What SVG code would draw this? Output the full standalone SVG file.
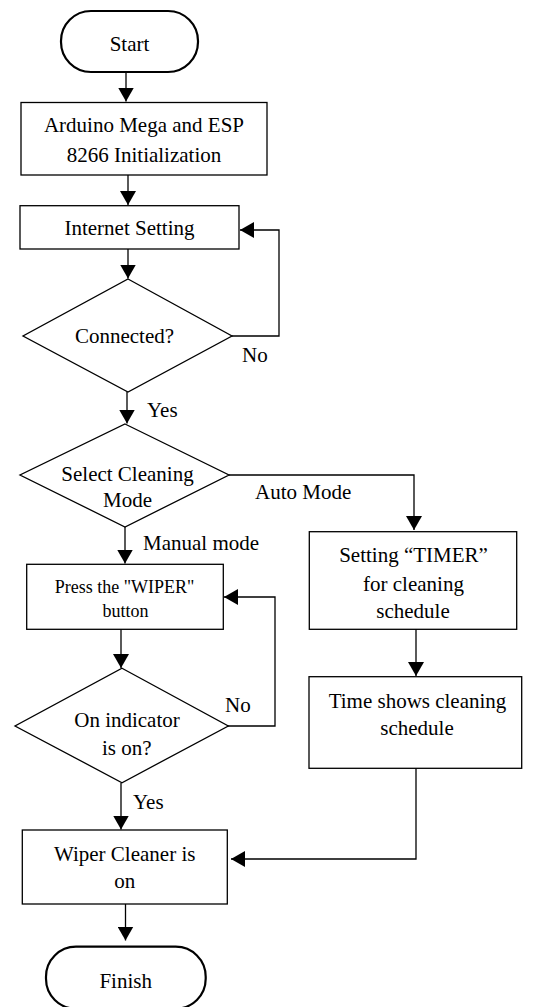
<svg xmlns="http://www.w3.org/2000/svg" width="534" height="1007" viewBox="0 0 534 1007">
<style>
.t{font-family:"Liberation Serif","Times New Roman",serif;font-size:21px;fill:#000;text-anchor:middle}
.s{font-size:18px}
.l{text-anchor:start}
.box{fill:#fff;stroke:#000;stroke-width:1.3}
.term{fill:#fff;stroke:#000;stroke-width:2.2}
.c{fill:none;stroke:#000;stroke-width:1.3}
</style>
<defs>
<marker id="ah" markerUnits="userSpaceOnUse" markerWidth="14" markerHeight="16" refX="14" refY="8" orient="auto">
<path d="M0,0 L14,8 L0,16 z" fill="#000"/>
</marker>
</defs>
<rect width="534" height="1007" fill="#fff"/>
<g id="connectors">
<path class="c" d="M126,72 V101.5" marker-end="url(#ah)"/>
<path class="c" d="M128,175 V205" marker-end="url(#ah)"/>
<path class="c" d="M128,249 V278.5" marker-end="url(#ah)"/>
<path class="c" d="M232,336 H279 V230 H240" marker-end="url(#ah)"/>
<path class="c" d="M127,392 V423.5" marker-end="url(#ah)"/>
<path class="c" d="M229,475 H414 V530" marker-end="url(#ah)"/>
<path class="c" d="M125,527 V563.5" marker-end="url(#ah)"/>
<path class="c" d="M121,629 V668" marker-end="url(#ah)"/>
<path class="c" d="M228,726 H275 V597 H224" marker-end="url(#ah)"/>
<path class="c" d="M416,629 V676" marker-end="url(#ah)"/>
<path class="c" d="M121,783 V829.5" marker-end="url(#ah)"/>
<path class="c" d="M416,768 V859 H231" marker-end="url(#ah)"/>
<path class="c" d="M125.5,904 V940.5" marker-end="url(#ah)"/>
</g>
<g id="start">
<rect class="term" x="61" y="11" width="137" height="61" rx="30" ry="30"/>
<text class="t" x="129.5" y="51">Start</text>
</g>
<g id="init">
<rect class="box" x="21" y="102.5" width="246" height="72.5"/>
<text class="t" x="144" y="132">Arduino Mega and ESP</text>
<text class="t" x="144" y="162">8266 Initialization</text>
</g>
<g id="internet">
<rect class="box" x="20" y="205.7" width="219" height="43.3"/>
<text class="t" x="129.5" y="235">Internet Setting</text>
</g>
<g id="connected">
<polygon class="box" points="128,279 232,336 128,392 23,336"/>
<text class="t" x="124.5" y="343">Connected?</text>
<text class="t l" x="242" y="362">No</text>
<text class="t l" x="147" y="417">Yes</text>
</g>
<g id="select">
<polygon class="box" points="125,424 229,475 125,527 20,475"/>
<text class="t" x="127.5" y="481">Select Cleaning</text>
<text class="t" x="127.5" y="507">Mode</text>
<text class="t l" x="255" y="499">Auto Mode</text>
<text class="t l" x="143" y="550">Manual mode</text>
</g>
<g id="wiper">
<rect class="box" x="26.7" y="564.3" width="196.6" height="65"/>
<text class="t s" x="124.5" y="593">Press the "WIPER"</text>
<text class="t s" x="125.5" y="617">button</text>
</g>
<g id="timer">
<rect class="box" x="309.3" y="531.7" width="207.4" height="97.6"/>
<text class="t" x="413.5" y="561.7">Setting “TIMER”</text>
<text class="t" x="413.5" y="591">for cleaning</text>
<text class="t" x="413" y="618">schedule</text>
</g>
<g id="timeshows">
<rect class="box" x="309" y="676.7" width="212.7" height="91.6"/>
<text class="t" x="417.5" y="708">Time shows cleaning</text>
<text class="t" x="417" y="735">schedule</text>
</g>
<g id="indicator">
<polygon class="box" points="122,668.3 228.3,726 122,782.7 15,726"/>
<text class="t" x="127" y="727">On indicator</text>
<text class="t" x="126.7" y="755">is on?</text>
<text class="t l" x="225" y="712">No</text>
<text class="t l" x="133" y="809">Yes</text>
</g>
<g id="cleaner">
<rect class="box" x="22.3" y="830" width="205" height="74"/>
<text class="t" x="124.7" y="861">Wiper Cleaner is</text>
<text class="t" x="124.7" y="888">on</text>
</g>
<g id="finish">
<rect class="term" x="46" y="946.7" width="159.7" height="62" rx="30" ry="30"/>
<text class="t" x="125.7" y="988">Finish</text>
</g>
</svg>
